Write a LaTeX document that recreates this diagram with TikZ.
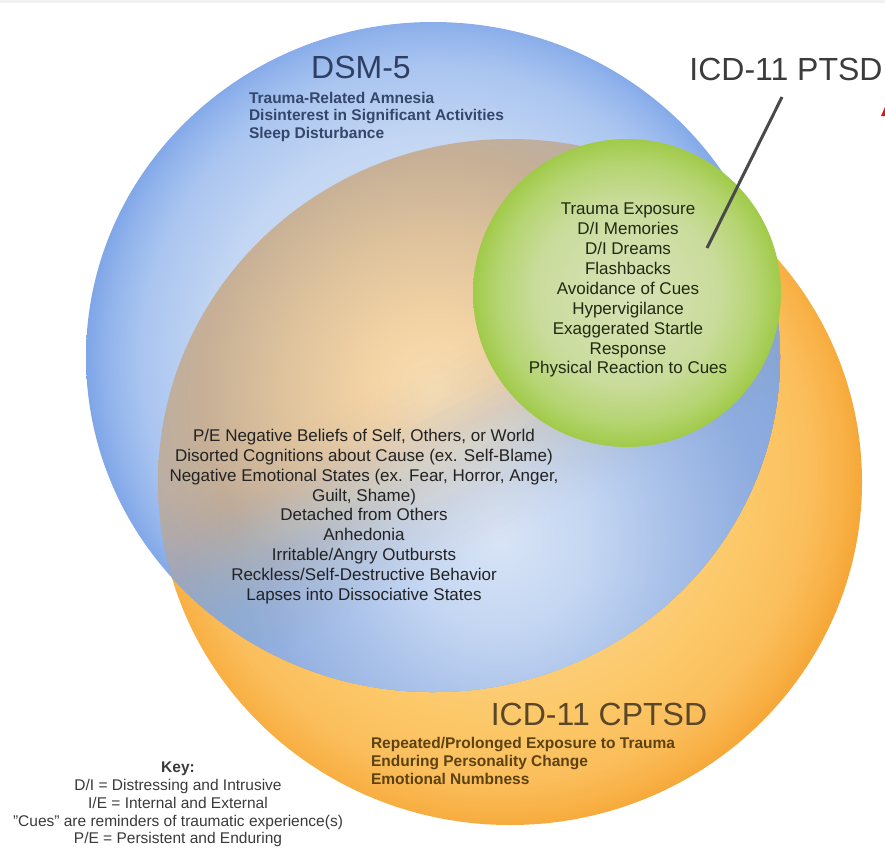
\documentclass[tikz,border=0pt]{standalone}
\usepackage{fontspec}
\setmainfont{Liberation Sans}
\definecolor{topband}{HTML}{F2F2F2}
\definecolor{bl0}{HTML}{D4E1F5}
\definecolor{bl1}{HTML}{C3D6F3}
\definecolor{bl2}{HTML}{AAC5F0}
\definecolor{bl3}{HTML}{92B4EC}
\definecolor{bl4}{HTML}{80A6E8}
\definecolor{or0}{HTML}{FDE2B8}
\definecolor{or1}{HTML}{FCC868}
\definecolor{or2}{HTML}{FBBE5C}
\definecolor{or3}{HTML}{F8B044}
\definecolor{or4}{HTML}{F4A232}
\definecolor{ov0}{HTML}{F8DEB2}
\definecolor{ov1}{HTML}{F3D3A4}
\definecolor{ov2}{HTML}{DCC19C}
\definecolor{ov3}{HTML}{C6AF96}
\definecolor{ov4}{HTML}{B8AEA6}
\definecolor{ov5}{HTML}{AEABAA}
\definecolor{bo0}{HTML}{D8E4F6}
\definecolor{bo1}{HTML}{C4D6F2}
\definecolor{bo2}{HTML}{A6BFE8}
\definecolor{bo3}{HTML}{8EACDF}
\definecolor{bo4}{HTML}{86A6DC}
\definecolor{gr0}{HTML}{D8E2B8}
\definecolor{gr1}{HTML}{CADC9C}
\definecolor{gr2}{HTML}{B4D470}
\definecolor{gr3}{HTML}{A0CA48}
\definecolor{dsmtitle}{HTML}{2E3F62}
\definecolor{dsmtext}{HTML}{34466A}
\definecolor{coretext}{HTML}{222222}
\definecolor{greentext}{HTML}{1F2A12}
\definecolor{cptitle}{HTML}{5A4628}
\definecolor{cptext}{HTML}{5C4212}
\definecolor{keytext}{HTML}{3A3A3A}
\definecolor{ptsdtitle}{HTML}{3C3C3C}
\definecolor{leader}{HTML}{4A4A4A}
\definecolor{redmark}{HTML}{E81010}
\pgfdeclareradialshading{blueshade}{\pgfpoint{0bp}{0bp}}{color(0bp)=(bl0); color(220bp)=(bl1); color(290bp)=(bl2); color(325bp)=(bl3); color(345bp)=(bl4); color(360bp)=(bl4)}
\pgfdeclareradialshading{orangeshade}{\pgfpoint{0bp}{0bp}}{color(0bp)=(or0); color(250bp)=(or1); color(310bp)=(or2); color(345bp)=(or3); color(370bp)=(or4); color(390bp)=(or4)}
\pgfdeclareradialshading{ovlshade}{\pgfpoint{0bp}{0bp}}{color(0bp)=(ov0); color(70bp)=(ov1); color(160bp)=(ov2); color(235bp)=(ov3); color(300bp)=(ov4); color(400bp)=(ov5)}
\pgfdeclareradialshading{blueover}{\pgfpoint{0bp}{0bp}}{color(0bp)=(bo0); color(90bp)=(bo1); color(180bp)=(bo2); color(260bp)=(bo3); color(330bp)=(bo4); color(420bp)=(bo4)}
\pgfdeclareradialshading{greenshade}{\pgfpoint{0bp}{0bp}}{color(0bp)=(gr0); color(90bp)=(gr1); color(130bp)=(gr2); color(154bp)=(gr3); color(160bp)=(gr3)}
\tikzset{
  txt/.style={inner sep=0pt, outer sep=0pt},
  shadenode/.style={inner sep=0pt, outer sep=0pt},
  bigtitle/.style={txt, font=\fontsize{32}{36}\selectfont},
  boldlist/.style={txt, align=left, anchor=north west, font=\bfseries\fontsize{15.5}{17.7}\selectfont},
  centerlist/.style={txt, align=center, anchor=north, font=\fontsize{17}{19.9}\selectfont},
}
\begin{document}
\begin{tikzpicture}[x=1pt,y=-1pt]
\useasboundingbox (0,0) rectangle (885,855);
\fill[white] (0,0) rectangle (885,855);
\fill[topband] (0,0) rectangle (885,3);
% ICD-11 CPTSD circle
\begin{scope}
  \clip (510,482) ellipse[x radius=352pt, y radius=343pt];
  \node[shadenode] (orsh) at (500,470) {\pgfuseshading{orangeshade}};
\end{scope}
% DSM-5 circle
\begin{scope}
  \clip (433,357) ellipse[x radius=347pt, y radius=335pt];
  \node[shadenode] (blsh) at (433,357) {\pgfuseshading{blueshade}};
\end{scope}
% overlap, base layer
\begin{scope}
  \clip (510,482) ellipse[x radius=352pt, y radius=343pt];
  \clip (433,357) ellipse[x radius=347pt, y radius=335pt];
  \node[shadenode] (ovsh) at (435,390) {\pgfuseshading{ovlshade}};
\end{scope}
% overlap, blue layer building up towards the lower right
\foreach \s/\a [count=\i] in {-28/0.0125,-18/0.0253,-8/0.0260,2/0.0267,12/0.0575,22/0.0930,32/0.1026,42/0.1143,52/0.1290,62/0.1389,72/0.1505,82/0.1772,92/0.2154,102/0.2745,112/0.2703,122/0.2222,132/0.2857,142/0.4,152/0.6667,162/1}{
  \begin{scope}
    \clip (510,482) ellipse[x radius=352pt, y radius=343pt];
    \clip (433,357) ellipse[x radius=347pt, y radius=335pt];
    \clip[shift={(435,390)}, rotate=-63] (\s,-800) rectangle (900,800);
    \begin{scope}[fill opacity=\a, text opacity=\a]
      \node[shadenode] (bosh\i) at (500,540) {\pgfuseshading{blueover}};
    \end{scope}
  \end{scope}
}
% ICD-11 PTSD circle
\begin{scope}
  \clip (627,293) circle[radius=154pt];
  \node[shadenode] (grsh) at (627,293) {\pgfuseshading{greenshade}};
\end{scope}
% titles
\node[bigtitle, text=dsmtitle, anchor=base] (dsm) at (361,78) {DSM-5};
\node[bigtitle, text=ptsdtitle, anchor=base] (ptsd) at (786,80) {ICD-11 PTSD};
\node[bigtitle, text=cptitle, anchor=base] (cptsd) at (599,725) {ICD-11 CPTSD};
% leader line
\coordinate (leadtop) at (782,97);
\coordinate (leadend) at (707,248);
\draw[leader, line width=3pt] (leadtop) -- (leadend);
% lists
\node[boldlist, text=dsmtext] (dsmlist) at (249,92) {Trauma-Related Amnesia\\Disinterest in Significant Activities\\Sleep Disturbance};
\node[boldlist, text=cptext, font=\bfseries\fontsize{15.5}{18}\selectfont] (cplist) at (371,737) {Repeated/Prolonged Exposure to Trauma\\Enduring Personality Change\\Emotional Numbness};
\node[centerlist, text=greentext] (ptsdlist) at (628,203) {Trauma Exposure\\D/I Memories\\D/I Dreams\\Flashbacks\\Avoidance of Cues\\Hypervigilance\\Exaggerated Startle\\Response\\Physical Reaction to Cues};
\node[centerlist, text=coretext] (corelist) at (364,429) {P/E Negative Beliefs of Self, Others, or World\\Disorted Cognitions about Cause (ex. Self-Blame)\\Negative Emotional States (ex. Fear, Horror, Anger,\\Guilt, Shame)\\Detached from Others\\Anhedonia\\Irritable/Angry Outbursts\\Reckless/Self-Destructive Behavior\\Lapses into Dissociative States};
% key
\node[centerlist, text=keytext, font=\fontsize{15.5}{17.8}\selectfont] (key) at (178,762) {\textbf{Key:}\\D/I = Distressing and Intrusive\\I/E = Internal and External\\"Cues" are reminders of traumatic experience(s)\\P/E = Persistent and Enduring};
% red mark at the right edge
\fill[redmark] (881,116) -- (885,107) -- (885,116) -- cycle;
\end{tikzpicture}
\end{document}
